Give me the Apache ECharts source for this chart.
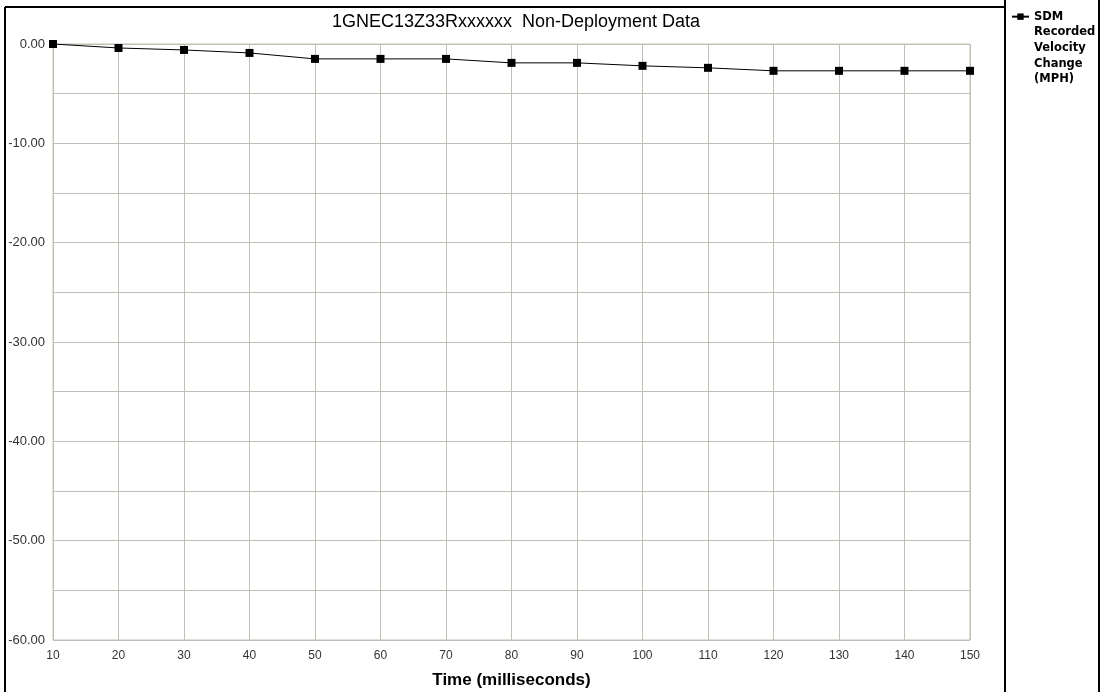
<!DOCTYPE html>
<html>
<head>
    <meta charset="utf-8">
    <title>Non-Deployment Data</title>
    <script src="https://cdn.jsdelivr.net/npm/echarts@6/dist/echarts.min.js"></script>
</head>
<body style="margin:0">
<div id="main" style="width:1102px;height:692px;"></div>
<script type="text/javascript">
    // time in ms and recorded velocity change (MPH)
    var times = [10, 20, 30, 40, 50, 60, 70, 80, 90, 100, 110, 120, 130, 140, 150]
    var velocity = [0, -0.4, -0.6, -0.9, -1.5, -1.5, -1.5, -1.9, -1.9, -2.2, -2.4, -2.7, -2.7, -2.7, -2.7]
    var seriesName = 'SDM\nRecorded\nVelocity\nChange\n(MPH)'
    var titleText = '1GNEC13Z33Rxxxxxx  Non-Deployment Data'

    var points = times.map(function (t, i) { return [t, velocity[i]] })
    var gridColor = '#c2c0b6'

    var myChart = echarts.init(document.getElementById('main'))
    var option = {
        backgroundColor: '#fff',
        animation: false,
        textStyle: {fontFamily: 'Liberation Sans, Arial, sans-serif'},
        title: {
            text: titleText,
            left: 511,
            textAlign: 'center',
            top: 8,
            textStyle: {fontSize: 18, fontWeight: 'normal', color: '#000'}
        },
        legend: {
            left: 1006,
            top: -59,
            orient: 'vertical',
            itemWidth: 17,
            itemHeight: 8,
            textStyle: {
                fontFamily: 'DejaVu Sans', fontSize: 11.5, fontWeight: 'bold', color: '#000',
                lineHeight: 15.7
            },
            // pad with blank lines so the marker sits next to the first line
            formatter: function (name) { return '\n\n\n\n' + name },
            data: [seriesName]
        },
        grid: {
            left: 53, right: 132, top: 44, bottom: 52,
            containLabel: false,
            outerBoundsMode: 'none',
            show: true,
            borderColor: gridColor,
            borderWidth: 1
        },
        xAxis: {
            type: 'value',
            min: 10,
            max: 150,
            interval: 10,
            name: 'Time (milliseconds)',
            nameLocation: 'middle',
            nameGap: 32,
            nameTextStyle: {fontSize: 17, fontWeight: 'bold', color: '#000'},
            axisLine: {lineStyle: {color: gridColor}},
            axisTick: {show: false},
            axisLabel: {color: '#333', fontSize: 12, margin: 10},
            splitLine: {lineStyle: {color: gridColor, width: 1}}
        },
        yAxis: {
            type: 'value',
            min: -60,
            max: 0,
            interval: 5,
            axisLine: {show: true, lineStyle: {color: gridColor}},
            axisTick: {show: false},
            axisLabel: {
                color: '#333', fontSize: 13, margin: 8,
                formatter: function (v) { return v % 10 === 0 ? v.toFixed(2) : '' }
            },
            splitLine: {lineStyle: {color: gridColor, width: 1}}
        },
        series: [{
            name: seriesName,
            type: 'line',
            data: points,
            symbol: 'rect',
            symbolSize: 8,
            itemStyle: {color: '#000'},
            lineStyle: {color: '#000', width: 1}
        }],
        graphic: [
            {type: 'line', shape: {x1: 5, y1: 7, x2: 1005, y2: 7}, style: {stroke: '#000', lineWidth: 2}},
            {type: 'line', shape: {x1: 5, y1: 7, x2: 5, y2: 692}, style: {stroke: '#000', lineWidth: 2}},
            {type: 'line', shape: {x1: 1099, y1: 0, x2: 1099, y2: 692}, style: {stroke: '#000', lineWidth: 2}},
            {type: 'line', shape: {x1: 1005, y1: 0, x2: 1005, y2: 692}, style: {stroke: '#000', lineWidth: 2}}
        ]
    }
    myChart.setOption(option)
</script>
</body>
</html>
